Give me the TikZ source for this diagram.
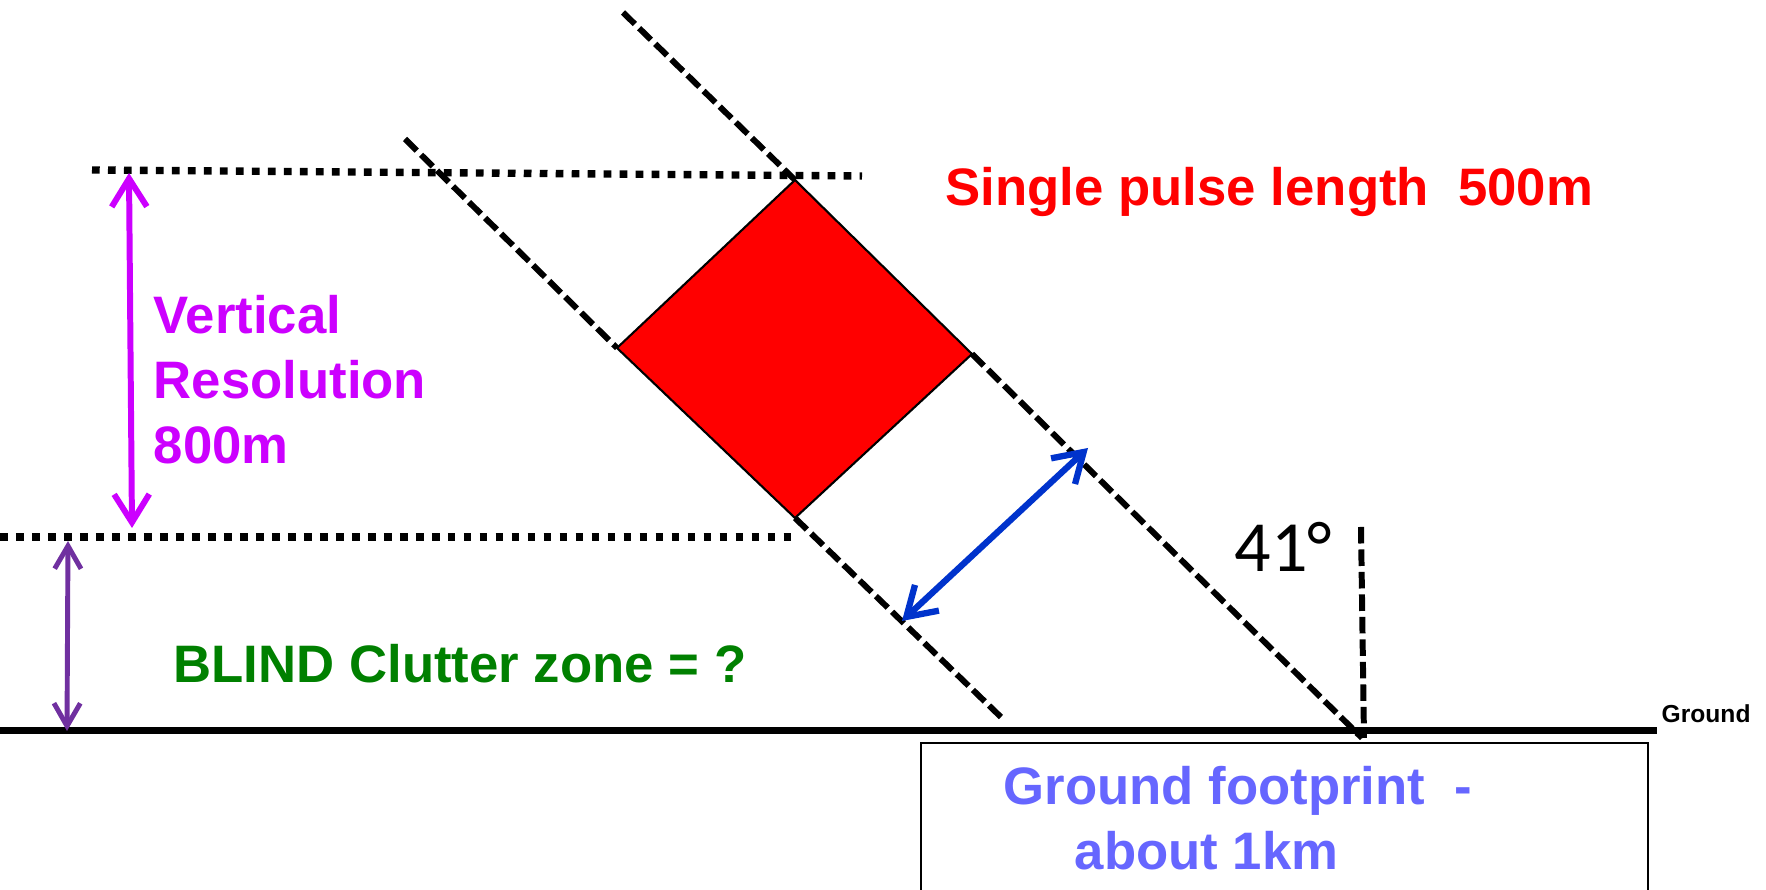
\documentclass[tikz,border=0pt]{standalone}
\usepackage{fontspec}
\setmainfont{Liberation Sans}
\newfontfamily\anglefont{Carlito}
\usetikzlibrary{arrows.meta,calc}
\definecolor{pulsered}{HTML}{FF0000}
\definecolor{resmagenta}{HTML}{CC00FF}
\definecolor{blindgreen}{HTML}{008000}
\definecolor{blindpurple}{HTML}{7030A0}
\definecolor{beamblue}{HTML}{0033CC}
\definecolor{footblue}{HTML}{6666FF}

\begin{document}
\begin{tikzpicture}[
  lbl/.style={inner sep=0pt, font=\fontsize{15}{18.5}\selectfont\bfseries, align=left},
  level/.style={line width=2.1pt, dash pattern=on 2.2pt off 2.35pt},
  beam/.style={line width=1.7pt, dash pattern=on 4.7pt off 1.7pt},
  bigdim/.style={line width=1.7pt, line cap=round,
                 {Straight Barb[length=8pt,width=10pt]}-{Straight Barb[length=8pt,width=10pt]}},
  smalldim/.style={line width=1.4pt, line cap=round,
                 {Straight Barb[length=6.5pt,width=7.5pt]}-{Straight Barb[length=6.5pt,width=7.5pt]}}
]
  \clip (0,0) rectangle (17.66,8.90);

  % pulse square and beam edges
  \coordinate (sqT) at (7.95,7.10);
  \coordinate (sqR) at (9.72,5.36);
  \coordinate (sqB) at (7.95,3.72);
  \coordinate (sqL) at (6.17,5.42);
  \coordinate (beamAtop) at (4.05,7.51);
  \coordinate (beamAbot) at (10.05,1.69);
  \coordinate (beamBtop) at (6.23,8.775);
  \coordinate (beamBbot) at (13.62,1.52);
  \coordinate (vertTop) at (13.61,3.63);
  \coordinate (vertBot) at (13.64,1.52);

  % levels
  \coordinate (topL) at (0.92,7.20);
  \coordinate (topR) at (8.62,7.14);
  \coordinate (lowL) at (0,3.53);
  \coordinate (lowR) at (7.91,3.53);
  \coordinate (gndL) at (0,1.595);
  \coordinate (gndR) at (16.57,1.595);

  \draw[level] (topL) -- (topR);
  \draw[level] (lowL) -- (lowR);
  \draw[beam] (beamAtop) -- (sqL);
  \draw[beam] (sqB) -- (beamAbot);
  \draw[beam] (beamBtop) -- (sqT);
  \draw[beam] (sqR) -- (beamBbot);
  \draw[beam] (vertTop) -- (vertBot);
  \filldraw[fill=pulsered, draw=black, line width=0.6pt] (sqT) -- (sqR) -- (sqB) -- (sqL) -- cycle;
  \draw[line width=2pt] (gndL) -- (gndR);

  % dimension arrows
  \coordinate (resT) at (1.29,7.17);
  \coordinate (resB) at (1.32,3.62);
  \coordinate (blindT) at (0.68,3.49);
  \coordinate (blindB) at (0.67,1.59);
  \coordinate (widthT) at (10.88,4.42);
  \coordinate (widthB) at (9.02,2.69);
  \draw[resmagenta, bigdim] (resT) -- (resB);
  \draw[blindpurple, smalldim] (blindT) -- (blindB);
  \draw[beamblue, bigdim, line width=1.8pt] (widthT) -- (widthB);

  % footprint box
  \coordinate (boxTL) at (9.21,1.47);
  \coordinate (boxTR) at (16.48,1.47);
  \draw[line width=0.6pt] ($(boxTL)+(0,-2)$) -- (boxTL) -- (boxTR) -- ($(boxTR)+(0,-2)$);

  % labels
  \node[lbl, text=pulsered, anchor=base west] (pulse) at (9.45,6.84) {Single pulse length~~500m};
  \node[lbl, text=resmagenta, anchor=north west] (vres) at (1.53,5.95) {Vertical\\Resolution\\800m};
  \node[lbl, text=blindgreen, anchor=base west] (blind) at (1.73,2.07) {BLIND Clutter zone = ?};
  \node[lbl, text=footblue, anchor=north west] (foot) at (10.03,1.24) {Ground footprint~~-\\\hspace*{0.71cm}about 1km};
  \node[inner sep=0pt, font=\fontsize{7}{8}\selectfont\bfseries, anchor=base west] (gnd) at (16.61,1.67) {Ground};
  \node[inner sep=0pt, font=\anglefont\fontsize{20.5}{24}\selectfont, anchor=base west] (angle) at (12.34,3.18) {41°};
\end{tikzpicture}
\end{document}
